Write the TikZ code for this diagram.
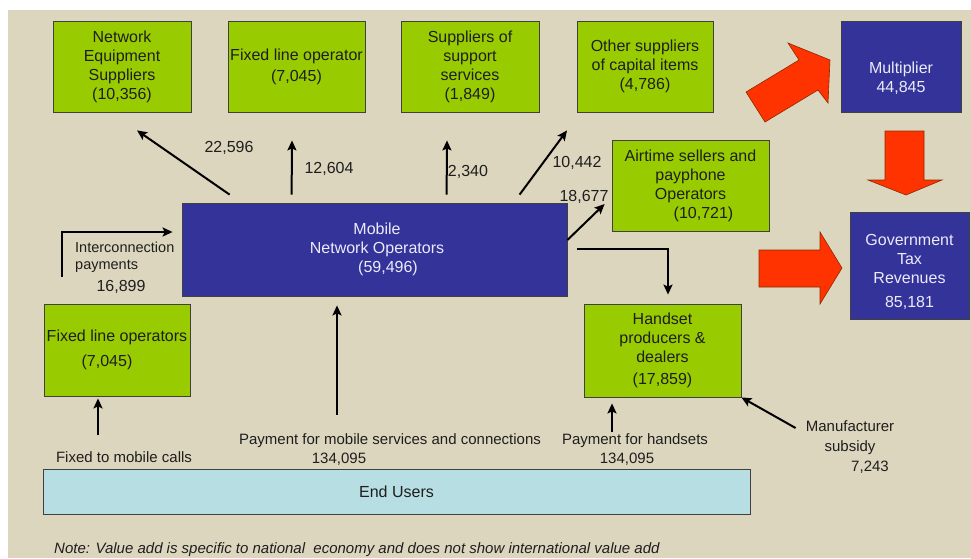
\documentclass[tikz,border=0pt]{standalone}
\usepackage{fontspec}
\setmainfont{Liberation Sans}
\usetikzlibrary{arrows.meta,calc}
\definecolor{bg}{RGB}{221,214,190}
\definecolor{gr}{RGB}{153,204,0}
\definecolor{bl}{RGB}{51,51,153}
\definecolor{lb}{RGB}{183,222,226}
\definecolor{rd}{RGB}{255,51,0}
\definecolor{rdo}{RGB}{140,40,0}
\definecolor{txt}{RGB}{30,30,30}
\definecolor{wtx}{RGB}{235,235,250}
\begin{document}
\begin{tikzpicture}[x=1pt,y=-1pt,
  every node/.style={inner sep=0pt},
  fsixteen/.style={font=\fontsize{16}{19}\selectfont},
  ffifteen/.style={font=\fontsize{15}{20}\selectfont},
  ffourteen/.style={font=\fontsize{14.5}{17}\selectfont},
  gbox/.style={fsixteen, draw=black!75, line width=0.8pt, fill=gr, align=center, text=txt},
  bbox/.style={fsixteen, draw=black!75, line width=0.8pt, fill=bl, align=center, text=wtx},
  ebox/.style={fsixteen, draw=black!75, line width=0.8pt, fill=lb, align=center, text=txt},
  wtxt/.style={fsixteen, align=center, text=wtx},
  arr/.style={line width=2pt, draw=black, -{Stealth[length=10pt,width=9pt,inset=2pt]}},
  lbl/.style={fsixteen, text=txt},
  lblb/.style={ffifteen, text=txt, align=center},
  notestyle/.style={font={\fontsize{15}{18}\selectfont\itshape}, text=txt},
  redarr/.style={fill=rd, draw=rdo, line width=0.6pt, line join=miter}
]
\useasboundingbox (0,0) rectangle (971,558);
\fill[white] (0,0) rectangle (971,558);
\fill[bg] (8,10) rectangle (971,558);

% boxes
\node[gbox,minimum width=138pt,minimum height=91pt] (nes) at (122,66.5) {Network\\Equipment\\Suppliers\\(10,356)};
\node[gbox,minimum width=137pt,minimum height=91pt] (flo) at (296.5,66.5) {Fixed line operator\\[2pt](7,045)};
\node[gbox,minimum width=138pt,minimum height=91pt] (sup) at (470,66.5) {Suppliers of\\support\\services\\(1,849)};
\node[gbox,minimum width=136pt,minimum height=91pt] (oth) at (645,66.5) {Other suppliers\\of capital items\\(4,786)};
\node[bbox,minimum width=120pt,minimum height=91pt] (mult) at (901,66.5) {};
\node[wtxt] (multt) at (901,78) {Multiplier\\44,845};
\node[gbox,minimum width=157pt,minimum height=91pt] (air) at (690.5,185.5) {Airtime sellers and\\payphone\\Operators\\\hspace*{26pt}(10,721)};
\node[bbox,minimum width=385pt,minimum height=93pt] (mno) at (374.5,249.5) {\hspace*{5pt}Mobile\\\hspace*{5pt}Network Operators\\\hspace*{27pt}(59,496)};
\node[gbox,minimum width=146pt,minimum height=92pt] (flops) at (117,350) {Fixed line operators\\[6pt](7,045)\hspace*{20pt}};
\node[gbox,minimum width=157pt,minimum height=93pt] (hand) at (662.5,350.5) {Handset\\producers \&\\dealers\\[3pt](17,859)};
\node[bbox,minimum width=119pt,minimum height=107pt] (gov) at (909.5,265.5) {};
\node[wtxt] (govt) at (909.5,272) {Government\\Tax\\Revenues\\[5pt]85,181};
\node[ebox,minimum width=707pt,minimum height=45pt] (eu) at (396.5,491.5) {End Users};

% red block arrows
\path[redarr] (746,92) -- (799,60) -- (788,43) -- (830,60) -- (828,103) -- (818,90) -- (765,122) -- cycle;
\path[redarr] (885,131) -- (924,131) -- (924,180) -- (942,180) -- (906,195) -- (868,180) -- (885,180) -- cycle;
\path[redarr] (759,250) -- (820,250) -- (820,232) -- (842,268) -- (820,304) -- (820,287) -- (759,287) -- cycle;

% connectors
\draw[arr] ($(mno.north west)+(48,-8)$) -- ($(nes.south)+(15,18)$);
\draw[arr] ($(mno.north west)+(110,-8)$) -- ($(flo.south)+(-4.5,28)$);
\draw[arr] ($(mno.north west)+(265,-8)$) -- ($(sup.south)+(-23,28)$);
\draw[arr] ($(mno.north west)+(338,-8)$) -- ($(oth.south)+(-78,18)$);
\draw[arr] ($(mno.east)+(0,-9.5)$) -- ($(air.west)+(-7,18.5)$);
\draw[arr] ($(mno.east)+(10,-0.5)$) -| ($(hand.north)+(5.5,-9)$);
\draw[arr] ($(flops.north west)+(18,-27)$) |- ($(mno.west)+(-9,-17.5)$);
\draw[arr] ($(flops.south)+(-19,39)$) -- ($(flops.south)+(-19,2)$);
\draw[arr] ($(eu.north)+(-59.5,-54)$) -- ($(mno.south)+(-37.5,9)$);
\draw[arr] ($(hand.south)+(-50.5,35)$) -- ($(hand.south)+(-50.5,6)$);

% labels
\node[lbl] (l22596) at (229,148) {22,596};
\node[lbl] (l12604) at (329,169) {12,604};
\node[lbl] (l2340) at (468,172) {2,340};
\node[lbl] (l10442) at (577,163) {10,442};
\node[lbl] (l18677) at (584,197) {18,677};
\node[ffourteen, text=txt, anchor=west, align=left] (lic) at (75,257) {Interconnection\\payments};
\node[lbl] (l16899) at (121,287) {16,899};
\node[lblb] (lfix) at (124,457) {Fixed to mobile calls};
\node[lblb] (lpm) at (390,441) {Payment for mobile services and connections};
\node[lblb] (lpmv) at (339,459) {134,095};
\node[lblb] (lph) at (635,441) {Payment for handsets};
\node[lblb] (lphv) at (627,459) {134,095};
\node[lblb] (msub) at (850,438) {Manufacturer\\subsidy};
\node[lblb] (l7243) at (870,467) {7,243};
\node[notestyle, anchor=west] (note) at (54,550) {Note: Value add is specific to national\ \ economy and does not show international value add};

\draw[arr] ($(msub.west)+(-10,-10)$) -- (hand.south east);
\end{tikzpicture}
\end{document}
